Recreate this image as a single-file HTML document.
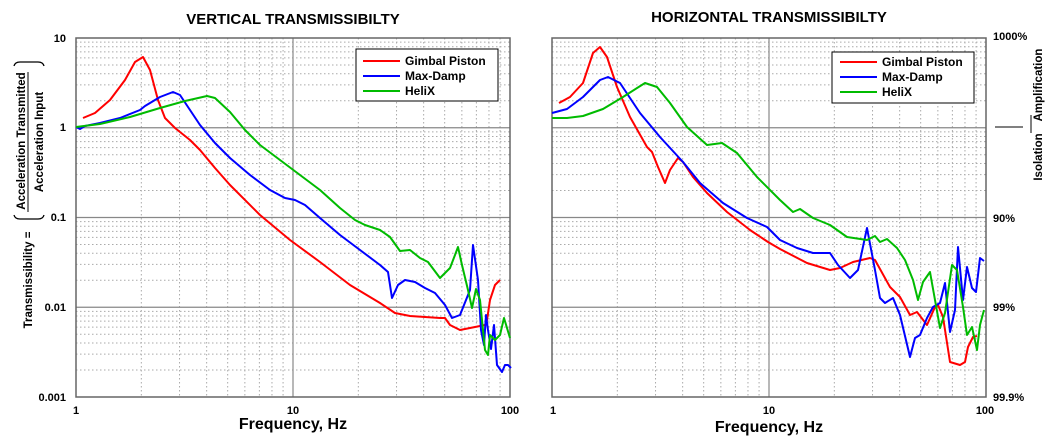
<!DOCTYPE html>
<html><head><meta charset="utf-8"><style>
html,body{margin:0;padding:0;background:#fff;}
svg{display:block;font-family:"Liberation Sans",sans-serif;}
</style></head><body>
<svg id="s" width="1045" height="442" xmlns="http://www.w3.org/2000/svg">
<g id="grid"></g>
<text x="293" y="24" font-size="15" font-weight="bold" text-anchor="middle">VERTICAL TRANSMISSIBILTY</text>
<text x="769" y="22" font-size="15" font-weight="bold" text-anchor="middle">HORIZONTAL TRANSMISSIBILTY</text>
<text x="293" y="429" font-size="16" font-weight="bold" text-anchor="middle">Frequency, Hz</text>
<text x="769" y="432" font-size="16" font-weight="bold" text-anchor="middle">Frequency, Hz</text>
<g font-size="11" font-weight="bold">
<text x="66" y="42" text-anchor="end">10</text>
<text x="66" y="131" text-anchor="end">1</text>
<text x="66" y="221" text-anchor="end">0.1</text>
<text x="66" y="311" text-anchor="end">0.01</text>
<text x="66" y="401" text-anchor="end">0.001</text>
<text x="76" y="414" text-anchor="middle">1</text>
<text x="293" y="414" text-anchor="middle">10</text>
<text x="510" y="414" text-anchor="middle">100</text>
<text x="553" y="414" text-anchor="middle">1</text>
<text x="769" y="414" text-anchor="middle">10</text>
<text x="985" y="414" text-anchor="middle">100</text>
<text x="993" y="40">1000%</text>
<text x="993" y="222">90%</text>
<text x="993" y="311">99%</text>
<text x="993" y="401">99.9%</text>
</g>
<g font-size="11.5" font-weight="bold">
<text transform="translate(32,280) rotate(-90)" text-anchor="middle">Transmissibility =</text>
<text transform="translate(25,141) rotate(-90)" text-anchor="middle">Acceleration Transmitted</text>
<text transform="translate(43,142) rotate(-90)" text-anchor="middle">Acceleration Input</text>
<text transform="translate(1042,85) rotate(-90)" text-anchor="middle">Amplification</text>
<text transform="translate(1042,157) rotate(-90)" text-anchor="middle">Isolation</text>
</g>
<line x1="28" y1="72" x2="28" y2="212" stroke="#000" stroke-width="1"/>
<path d="M14,66 Q15,62 20,62 L38,62 Q43,62 44,66" stroke="#000" fill="none" stroke-width="1.3"/>
<path d="M14,215 Q15,219 20,219 L38,219 Q43,219 44,215" stroke="#000" fill="none" stroke-width="1.3"/>
<line x1="995" y1="127" x2="1023" y2="127" stroke="#000"/>
<line x1="1031" y1="115" x2="1031" y2="133" stroke="#000"/>
<g id="curves" fill="none" stroke-width="2" stroke-linejoin="round"></g>
<g font-size="12" font-weight="bold">
<rect x="356" y="49" width="142" height="52" fill="#fff" stroke="#000"/>
<line x1="363" y1="61" x2="400" y2="61" stroke="#f00" stroke-width="2"/>
<line x1="363" y1="76" x2="400" y2="76" stroke="#00f" stroke-width="2"/>
<line x1="363" y1="91" x2="400" y2="91" stroke="#0b0" stroke-width="2"/>
<text x="405" y="65">Gimbal Piston</text><text x="405" y="80">Max-Damp</text><text x="405" y="95">HeliX</text>
<rect x="832" y="52" width="142" height="51" fill="#fff" stroke="#000"/>
<line x1="840" y1="62" x2="877" y2="62" stroke="#f00" stroke-width="2"/>
<line x1="840" y1="77" x2="877" y2="77" stroke="#00f" stroke-width="2"/>
<line x1="840" y1="92" x2="877" y2="92" stroke="#0b0" stroke-width="2"/>
<text x="882" y="66">Gimbal Piston</text><text x="882" y="81">Max-Damp</text><text x="882" y="96">HeliX</text>
</g>
</svg>
<script>
var NS="http://www.w3.org/2000/svg",g=document.getElementById('grid'),c=document.getElementById('curves');
function ln(x1,y1,x2,y2,st,w,d){var l=document.createElementNS(NS,'line');l.setAttribute('x1',x1);l.setAttribute('y1',y1);l.setAttribute('x2',x2);l.setAttribute('y2',y2);l.setAttribute('stroke',st);l.setAttribute('stroke-width',w);if(d)l.setAttribute('stroke-dasharray',d);g.appendChild(l);}
function plot(x0){var x1=x0+434,y0=38,y1=397,dx=217,dy=89.75;
for(var d=0;d<2;d++)for(var k=2;k<10;k++){var x=x0+dx*(d+Math.log10(k));ln(x,y0,x,y1,'#aaa',1,'1.5,2.5');}
for(var d=0;d<4;d++)for(var k=2;k<10;k++){var y=y1-dy*(d+Math.log10(k));ln(x0,y,x1,y,'#aaa',1,'1.5,2.5');}
ln(x0+dx,y0,x0+dx,y1,'#888',1.2);
for(var d=1;d<4;d++){var y=y1-dy*d;ln(x0,y,x1,y,'#888',1.2);}
var r=document.createElementNS(NS,'rect');r.setAttribute('x',x0);r.setAttribute('y',y0);r.setAttribute('width',434);r.setAttribute('height',359);r.setAttribute('fill','none');r.setAttribute('stroke','#666');r.setAttribute('stroke-width','1.5');g.appendChild(r);}
plot(76);plot(552);
function pl(col,pts){var p=document.createElementNS(NS,'polyline');p.setAttribute('points',pts);p.setAttribute('stroke',col);c.appendChild(p);}
pl('#f00',"83,118 95,113 110,100 125,80 135,62 143,57 150,70 158,100 165,118 175,128 190,140 200,150 215,168 230,185 260,215 290,240 320,262 350,285 380,303 395,313 410,316 440,318 445,318 450,325 460,330 475,327 485,325 487,320 490,300 495,285 500,280");
pl('#00f',"76,127 80,129 85,126 100,123 120,118 140,110 145,106 160,97 173,92 180,95 190,110 200,125 215,143 230,158 250,175 270,190 285,198 295,200 305,205 320,218 340,235 360,250 380,265 388,272 392,298 398,285 405,280 415,282 425,288 435,293 445,305 452,318 460,315 466,300 470,290 473,245 478,280 481,330 484,345 486,315 488,330 491,349 494,325 497,365 502,372 505,365 508,365 511,368");
pl('#0b0',"76,127 100,124 130,117 160,108 185,101 207,96 215,98 230,112 245,130 260,145 280,160 300,175 320,190 340,208 355,220 365,225 380,230 390,237 400,251 410,250 420,258 428,262 440,278 450,268 455,255 458,247 462,265 468,290 472,308 476,289 480,300 485,350 488,355 490,335 495,340 500,335 504,318 510,338");
pl('#f00',"559,103 570,97 583,83 593,53 600,47 607,57 617,87 630,117 647,147 652,152 658,167 665,183 670,170 678,158 683,162 693,177 707,193 727,212 750,230 768,242 780,249 807,263 830,270 840,268 853,262 870,258 875,260 890,287 900,297 910,315 917,312 927,325 935,307 938,305 943,317 950,362 960,365 965,362 968,347 973,337 977,336");
pl('#00f',"552,113 567,109 583,97 600,80 608,77 620,83 640,113 660,137 683,162 700,183 723,203 747,218 767,227 780,240 797,248 813,253 830,253 838,265 850,278 858,270 867,228 875,270 880,298 885,303 893,298 900,315 910,357 915,338 920,335 927,318 933,307 940,303 945,283 950,332 955,310 958,247 963,300 967,267 972,288 976,292 980,258 984,261");
pl('#0b0',"552,118 567,118 583,116 603,109 623,97 645,83 657,87 670,103 687,127 707,145 722,143 737,153 757,177 780,200 793,212 800,209 813,218 830,225 847,237 867,240 875,236 880,242 887,239 897,248 905,260 913,280 918,300 923,282 930,272 935,300 940,328 945,313 952,265 957,270 963,307 967,335 972,327 977,350 980,325 984,310");
</script>
</body></html>
